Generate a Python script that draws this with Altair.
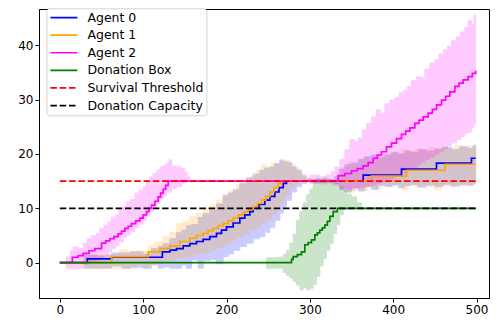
import altair as alt
import pandas as pd

# ---------------- series definitions ----------------
names = ["Agent 0", "Agent 1", "Agent 2", "Donation Box",
         "Survival Threshold", "Donation Capacity"]
line_colors = ["#0000ff", "#ffa500", "#ff00ff", "#008000", "#ff0000", "#000000"]
dash_styles = [[1, 0], [1, 0], [1, 0], [1, 0], [6.5, 2.8], [6.5, 2.8]]

# mean lines: (step, value) change points
agent0_mean = [(0, 0), (33, 0.7), (62, 1.0), (123, 2.0), (132, 2.3), (140, 2.6), (148, 3.1),
               (156, 3.5), (164, 3.9), (172, 4.3), (180, 4.8), (188, 5.4), (194, 6.0),
               (200, 6.6), (208, 7.3), (216, 8.2), (222, 8.8), (228, 9.4), (232, 10.0),
               (239, 10.7), (246, 11.5), (252, 12.2), (258, 13.0), (263, 13.8), (268, 14.6),
               (272, 15.0), (364, 16.1), (410, 17.2), (452, 18.3), (494, 19.2), (499, 19.2)]
agent1_mean = [(0, 0), (62, 1.1), (106, 2.0), (120, 2.6), (132, 3.1), (144, 3.9), (156, 4.5),
               (164, 5.0), (172, 5.4), (178, 5.9), (184, 6.3), (190, 6.8), (196, 7.2),
               (202, 7.7), (208, 8.2), (214, 8.8), (220, 9.3), (226, 9.8), (232, 10.3),
               (237, 10.9), (242, 11.5), (247, 12.2), (252, 13.0), (257, 13.8), (262, 14.6),
               (266, 15.0), (374, 15.9), (416, 17.0), (462, 18.1), (499, 18.1)]
agent2_mean = [(0, 0), (15, 1.0), (22, 1.3), (28, 1.7), (35, 2.2), (42, 2.6), (50, 3.6),
               (55, 4.0), (60, 4.4), (65, 4.8), (70, 5.3), (74, 5.8), (78, 6.3), (82, 6.7),
               (86, 7.2), (91, 7.7), (96, 8.2), (100, 8.8), (104, 9.4), (107, 10.0),
               (110, 10.6), (114, 11.3), (118, 12.1), (121, 12.8), (124, 13.5), (127, 14.2),
               (130, 15.0), (334, 16.0), (342, 16.4), (350, 16.9), (357, 17.3), (364, 17.8),
               (370, 18.4), (376, 19.2), (381, 19.8), (386, 20.4), (392, 21.3), (398, 22.0),
               (404, 22.8), (410, 23.6), (415, 24.2), (420, 24.8), (426, 25.6), (431, 26.2),
               (436, 26.8), (442, 27.5), (447, 28.2), (452, 29.0), (458, 29.9), (463, 30.6),
               (468, 31.4), (474, 32.4), (479, 33.0), (484, 33.6), (490, 34.2), (495, 34.8),
               (499, 35.3)]
box_mean = [(0, 0), (278, 0.6), (280, 1.1), (285, 1.5), (290, 2.0), (294, 3.3), (298, 3.7),
            (302, 4.2), (306, 5.1), (309, 5.5), (312, 6.0), (315, 6.4), (318, 6.9),
            (321, 7.6), (324, 8.5), (328, 9.4), (333, 10.0), (499, 10.0)]

# shaded bands: (step, lower, upper)
agent0_band = [(0, 0, 0), (30, -1.0, 1.4), (45, -1.0, 1.2), (55, -1.0, 1.4), (62, -0.6, 1.8),
               (75, -1.0, 1.8), (85, -0.8, 2.0), (100, -1.0, 1.6), (110, -0.4, 2.6),
               (118, -1.0, 3.0), (124, -0.8, 3.5), (132, -1.0, 4.4), (140, -1.0, 5.5),
               (146, -0.4, 6.0), (152, -1.0, 6.8), (158, 0.5, 7.0), (166, -1.0, 8.3),
               (172, 0.4, 9.0), (180, 0.6, 9.7), (188, -0.2, 10.8), (196, 1.1, 12.3),
               (202, 1.6, 12.8), (208, 2.3, 13.4), (216, 3.0, 14.6), (224, 3.6, 15.6),
               (232, 4.4, 16.3), (240, 4.8, 17.0), (246, 5.6, 17.4), (252, 6.5, 17.6),
               (258, 7.8, 18.2), (264, 9.1, 18.9), (268, 10.3, 18.6), (272, 11.5, 18.4),
               (278, 13.0, 17.6), (284, 14.0, 17.0), (290, 14.6, 16.0), (296, 14.9, 15.4),
               (300, 14.8, 15.3), (330, 14.6, 15.8), (336, 13.4, 17.2), (342, 13.0, 18.0),
               (350, 13.8, 18.3), (358, 13.2, 19.0), (366, 14.0, 19.5), (374, 13.5, 19.8),
               (382, 14.2, 19.3), (390, 14.0, 19.8), (398, 14.3, 20.3), (406, 13.8, 20.0),
               (414, 14.2, 20.5), (422, 14.4, 20.3), (430, 13.9, 20.8), (440, 14.3, 20.5),
               (450, 14.0, 20.9), (460, 14.4, 21.2), (470, 14.1, 20.8), (480, 14.4, 21.3),
               (490, 14.2, 21.0), (496, 14.6, 21.6), (499, 14.6, 21.6)]
agent1_band = [(0, 0, 0), (28, -1.0, 1.4), (62, -1.0, 1.4), (72, -1.0, 2.4), (82, -1.0, 2.0),
               (92, -0.4, 2.2), (100, -1.0, 2.0), (106, -0.3, 3.2), (114, 0.0, 3.8),
               (124, 0.3, 4.8), (132, 0.5, 5.6), (140, 0.8, 7.2), (148, 1.0, 7.6),
               (156, 1.4, 8.5), (164, 1.6, 9.1), (172, 1.9, 10.0), (180, 2.3, 10.6),
               (188, 2.8, 11.5), (196, 3.4, 12.6), (204, 4.0, 13.2), (212, 4.7, 14.3),
               (220, 5.3, 15.2), (228, 6.0, 15.8), (236, 6.6, 17.0), (242, 7.4, 18.0),
               (248, 8.0, 17.6), (254, 8.9, 18.3), (260, 10.2, 18.0), (264, 10.8, 18.6),
               (270, 12.6, 18.9), (276, 13.8, 18.2), (282, 14.6, 17.4), (288, 15.0, 16.4),
               (294, 15.0, 15.6), (300, 15.0, 15.0), (332, 14.7, 16.0), (338, 13.4, 17.5),
               (346, 13.0, 18.5), (354, 13.6, 18.0), (362, 13.3, 19.2), (370, 14.0, 18.8),
               (378, 13.6, 19.8), (386, 14.3, 19.5), (394, 14.0, 20.0), (402, 14.4, 19.8),
               (410, 13.4, 20.8), (418, 14.3, 20.4), (426, 14.0, 20.9), (434, 14.4, 20.6),
               (442, 14.0, 21.2), (450, 13.4, 20.8), (458, 14.3, 21.3), (466, 14.0, 21.0),
               (474, 14.4, 21.5), (482, 14.1, 21.2), (490, 14.4, 21.4), (499, 14.3, 21.4)]
agent2_band = [(0, 0, 0), (8, -1.0, 1.0), (13, -1.0, 2.2), (16, -1.0, 2.9), (22, -1.0, 2.6),
               (28, -0.3, 3.6), (33, -0.2, 4.4), (38, 0.2, 5.0), (44, 0.5, 5.4), (48, 0.9, 6.3),
               (53, 1.5, 6.9), (58, 2.0, 7.5), (62, 2.6, 8.4), (67, 3.1, 8.8), (71, 3.8, 9.9),
               (76, 4.6, 10.3), (80, 5.1, 11.2), (85, 5.7, 11.6), (90, 6.5, 12.8),
               (95, 7.1, 13.3), (100, 7.8, 13.9), (104, 8.6, 15.0), (108, 9.5, 15.8),
               (112, 10.2, 16.4), (116, 10.9, 17.0), (120, 11.8, 17.6), (124, 12.4, 17.9),
               (128, 13.0, 18.3), (131, 13.0, 18.9), (134, 13.6, 17.8), (140, 14.0, 17.6),
               (146, 14.6, 17.3), (150, 14.8, 16.6), (153, 15.0, 15.8), (156, 15.0, 15.0),
               (300, 14.6, 16.1), (312, 14.5, 15.8), (320, 14.7, 16.2), (326, 14.4, 16.8),
               (330, 14.2, 17.6), (336, 13.8, 19.0), (342, 13.5, 20.8), (348, 13.4, 22.6),
               (354, 13.6, 22.3), (358, 13.8, 22.9), (363, 13.9, 24.4), (368, 14.1, 25.6),
               (374, 14.3, 26.8), (380, 14.6, 28.1), (385, 14.8, 27.5), (390, 15.0, 29.2),
               (396, 15.4, 29.9), (402, 15.8, 30.4), (407, 16.2, 31.2), (412, 16.6, 31.7),
               (417, 17.0, 32.4), (422, 17.4, 33.5), (428, 18.0, 34.2), (433, 18.5, 34.0),
               (438, 19.0, 35.6), (444, 19.4, 36.7), (450, 19.9, 37.3), (455, 20.5, 38.4),
               (460, 21.0, 39.1), (465, 21.5, 39.8), (470, 22.0, 40.9), (476, 22.6, 41.5),
               (481, 23.2, 42.4), (486, 23.8, 43.2), (490, 24.0, 44.6), (494, 24.8, 43.8),
               (497, 25.6, 45.5), (499, 25.6, 45.5)]
box_band = [(0, 0, 0), (248, -1.0, 0.9), (262, -1.0, 1.0), (268, -1.8, 1.5), (272, -2.3, 2.3),
            (276, -2.8, 3.6), (280, -3.5, 5.2), (284, -4.1, 7.8), (288, -5.0, 9.4),
            (292, -4.6, 11.0), (296, -5.0, 12.5), (300, -4.7, 13.5), (304, -4.0, 15.0),
            (308, -2.5, 15.5), (312, -0.6, 15.3), (316, 0.8, 15.6), (320, 2.3, 15.3),
            (324, 3.6, 15.1), (328, 5.4, 14.8), (332, 7.0, 14.5), (336, 8.8, 14.0),
            (340, 9.8, 13.2), (344, 10.0, 12.6), (350, 10.0, 12.1), (356, 10.0, 11.0),
            (362, 10.0, 10.0), (499, 10.0, 10.0)]

survival_level = 15
capacity_level = 10
step_range = [0, 499]

x_ticks = [0, 100, 200, 300, 400, 500]
y_ticks = [0, 10, 20, 30, 40]

# ---------------- build tables ----------------
def line_frame(name, pts):
    return pd.DataFrame({"series": name, "t": [p[0] for p in pts], "v": [p[1] for p in pts]})


def band_frame(name, rows):
    return pd.DataFrame({"series": name, "t": [r[0] for r in rows],
                         "lo": [r[1] for r in rows], "hi": [r[2] for r in rows]})


mean_df = pd.concat([line_frame(names[0], agent0_mean), line_frame(names[1], agent1_mean),
                     line_frame(names[2], agent2_mean), line_frame(names[3], box_mean)])
band_df = pd.concat([band_frame(names[0], agent0_band), band_frame(names[1], agent1_band),
                     band_frame(names[2], agent2_band), band_frame(names[3], box_band)])
thr_df = pd.concat([line_frame(names[4], [(step_range[0], survival_level), (step_range[1], survival_level)]),
                    line_frame(names[5], [(step_range[0], capacity_level), (step_range[1], capacity_level)])])

FONT = "DejaVu Sans"

x_enc = alt.X("t:Q", scale=alt.Scale(domain=[-25, 515], nice=False, zero=False),
              axis=alt.Axis(values=x_ticks, title=None))
y_scale = alt.Scale(domain=[-6.49, 46.64], nice=False, zero=False)
y_axis = alt.Axis(values=y_ticks, title=None)

legend = alt.Legend(orient="none", legendX=7.4, legendY=-0.7, title=None,
                    symbolType="stroke", symbolSize=729, symbolStrokeWidth=1.7,
                    labelFont=FONT, labelFontSize=12.5, labelColor="#000000",
                    labelOffset=9, rowPadding=4.6, padding=3, labelLimit=300,
                    clipHeight=12.5,
                    strokeColor="#d4d4d4", fillColor="#ffffff", cornerRadius=3)

color_enc = alt.Color("series:N", scale=alt.Scale(domain=names, range=line_colors), legend=legend)
dash_enc = alt.StrokeDash("series:N", scale=alt.Scale(domain=names, range=dash_styles), legend=legend)

bands = alt.Chart(band_df).mark_area(interpolate="step-after", opacity=0.2, strokeWidth=1).encode(
    x=x_enc,
    y=alt.Y("lo:Q", scale=y_scale, axis=y_axis),
    y2="hi:Q",
    fill=alt.Fill("series:N", scale=alt.Scale(domain=names[:4], range=line_colors[:4]), legend=None),
    stroke=alt.Stroke("series:N", scale=alt.Scale(domain=names[:4], range=line_colors[:4]), legend=None),
    detail="series:N",
)

means = alt.Chart(mean_df).mark_line(interpolate="step-after", strokeWidth=1.7).encode(
    x=x_enc,
    y=alt.Y("v:Q", scale=y_scale, axis=y_axis),
    color=color_enc,
    strokeDash=dash_enc,
)

thresholds = alt.Chart(thr_df).mark_line(strokeWidth=1.7).encode(
    x=x_enc,
    y=alt.Y("v:Q", scale=y_scale, axis=y_axis),
    color=color_enc,
    strokeDash=dash_enc,
)

chart = alt.layer(bands, means, thresholds).properties(
    width=450, height=289,
    autosize=alt.AutoSizeParams(type="none"),
    padding={"left": 31, "top": 1, "right": 1, "bottom": 19},
).configure_view(
    stroke="#000000", strokeWidth=1
).configure_axis(
    grid=False, domainColor="#000000", domainWidth=1, tickColor="#000000",
    tickSize=4, tickWidth=1, labelFont=FONT, labelFontSize=12, labelColor="#000000",
    labelPadding=2
)

chart.save("out.html", embed_options={"renderer": "svg", "actions": False})
